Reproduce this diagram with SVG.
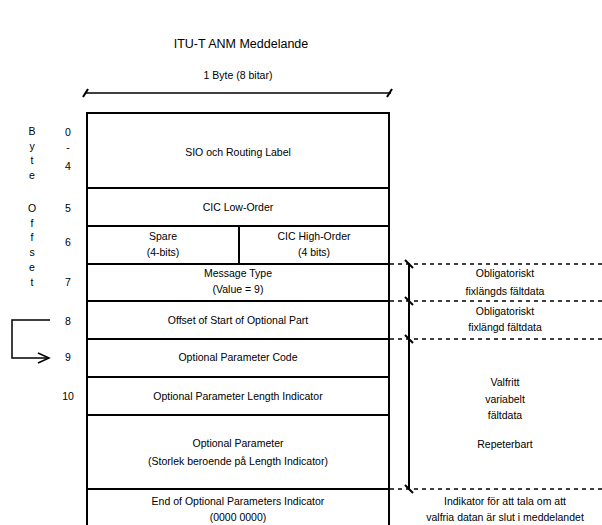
<svg xmlns="http://www.w3.org/2000/svg" width="602" height="525" viewBox="0 0 602 525">
  <style>
    text { font-family: "Liberation Sans", Arial, sans-serif; fill: #000; text-anchor: middle; }
    .t { font-size: 10.5px; }
    .title { font-size: 12.5px; }
    .box { fill: none; stroke: #000; stroke-width: 2; }
    .rule { stroke: #000; stroke-width: 2; fill: none; }
    .dim { stroke: #000; stroke-width: 1.5; fill: none; }
    .dash { stroke: #000; stroke-width: 1.5; stroke-dasharray: 4 4; fill: none; }
    .tick { stroke: #000; stroke-width: 2; fill: none; }
  </style>

  <rect width="602" height="525" fill="#fff"/>

  <text class="title" x="241" y="48">ITU-T ANM Meddelande</text>

  <!-- width dimension -->
  <g id="byte-width">
    <text class="t" x="238" y="79">1 Byte (8 bitar)</text>
    <line class="dim" x1="85" y1="93" x2="391" y2="93"/>
    <line class="tick" x1="83" y1="97" x2="88" y2="89"/>
    <line class="tick" x1="387" y1="97" x2="392" y2="89"/>
  </g>

  <!-- byte offset labels -->
  <g id="offset-axis" class="t">
    <text x="32" y="135">B</text>
    <text x="32" y="150">y</text>
    <text x="32" y="164">t</text>
    <text x="32" y="179">e</text>
    <text x="32" y="212">O</text>
    <text x="32" y="227">f</text>
    <text x="32" y="241">f</text>
    <text x="32" y="256">s</text>
    <text x="32" y="271">e</text>
    <text x="32" y="286">t</text>
    <text x="68" y="136">0</text>
    <text x="68" y="151">-</text>
    <text x="68" y="170">4</text>
    <text x="68" y="212">5</text>
    <text x="68" y="246">6</text>
    <text x="68" y="286">7</text>
    <text x="68" y="325">8</text>
    <text x="68" y="361">9</text>
    <text x="68" y="400">10</text>
  </g>

  <!-- message layout -->
  <g id="frame">
    <path class="box" d="M87,535 V113 H389 V535"/>
  </g>
  <g id="sio">
    <text class="t" x="238" y="156">SIO och Routing Label</text>
    <line class="rule" x1="87" y1="188" x2="389" y2="188"/>
  </g>
  <g id="cic-low">
    <text class="t" x="238" y="211">CIC Low-Order</text>
    <line class="rule" x1="87" y1="226" x2="389" y2="226"/>
  </g>
  <g id="spare-cic-high">
    <line class="rule" x1="239" y1="226" x2="239" y2="264"/>
    <text class="t" x="163" y="240">Spare</text>
    <text class="t" x="163" y="256">(4-bits)</text>
    <text class="t" x="314" y="240">CIC High-Order</text>
    <text class="t" x="314" y="256">(4 bits)</text>
    <line class="rule" x1="87" y1="264" x2="389" y2="264"/>
  </g>
  <g id="message-type">
    <text class="t" x="238" y="277">Message Type</text>
    <text class="t" x="238" y="293">(Value = 9)</text>
    <line class="rule" x1="87" y1="301" x2="389" y2="301"/>
  </g>
  <g id="offset-start">
    <text class="t" x="238" y="324">Offset of Start of Optional Part</text>
    <line class="rule" x1="87" y1="339" x2="389" y2="339"/>
  </g>
  <g id="param-code">
    <text class="t" x="238" y="361">Optional Parameter Code</text>
    <line class="rule" x1="87" y1="377" x2="389" y2="377"/>
  </g>
  <g id="param-length">
    <text class="t" x="238" y="400">Optional Parameter Length Indicator</text>
    <line class="rule" x1="87" y1="415" x2="389" y2="415"/>
  </g>
  <g id="param">
    <text class="t" x="238" y="447">Optional Parameter</text>
    <text class="t" x="238" y="465">(Storlek beroende på Length Indicator)</text>
    <line class="rule" x1="87" y1="489" x2="389" y2="489"/>
  </g>
  <g id="end-indicator">
    <text class="t" x="238" y="505">End of Optional Parameters Indicator</text>
    <text class="t" x="238" y="521">(0000 0000)</text>
  </g>

  <!-- connectors -->
  <g id="connectors">
    <!-- pointer from offset byte 8 to byte 9 -->
    <path class="dim" d="M50,320 H12 V358 H49"/>
    <path class="dim" d="M38,353 L49,358 L38,363"/>
    <!-- section boundaries -->
    <line class="dash" x1="390" y1="264" x2="602" y2="264"/>
    <line class="dash" x1="390" y1="301" x2="602" y2="301"/>
    <line class="dash" x1="390" y1="339" x2="602" y2="339"/>
    <line class="dash" x1="390" y1="489" x2="602" y2="489"/>
    <line class="rule" x1="409" y1="264" x2="409" y2="489"/>
    <line class="tick" x1="405" y1="260" x2="413" y2="268"/>
    <line class="tick" x1="405" y1="297" x2="413" y2="305"/>
    <line class="tick" x1="405" y1="335" x2="413" y2="343"/>
    <line class="tick" x1="405" y1="485" x2="413" y2="493"/>
  </g>

  <!-- section notes -->
  <g id="notes" class="t">
    <text x="505" y="277">Obligatoriskt</text>
    <text x="505" y="295">fixlängds fältdata</text>
    <text x="505" y="315">Obligatoriskt</text>
    <text x="505" y="331">fixlängd fältdata</text>
    <text x="505" y="386">Valfritt</text>
    <text x="505" y="403">variabelt</text>
    <text x="505" y="419">fältdata</text>
    <text x="505" y="448">Repeterbart</text>
    <text x="505" y="505">Indikator för att tala om att</text>
    <text x="505" y="521">valfria datan är slut i meddelandet</text>
  </g>
</svg>
